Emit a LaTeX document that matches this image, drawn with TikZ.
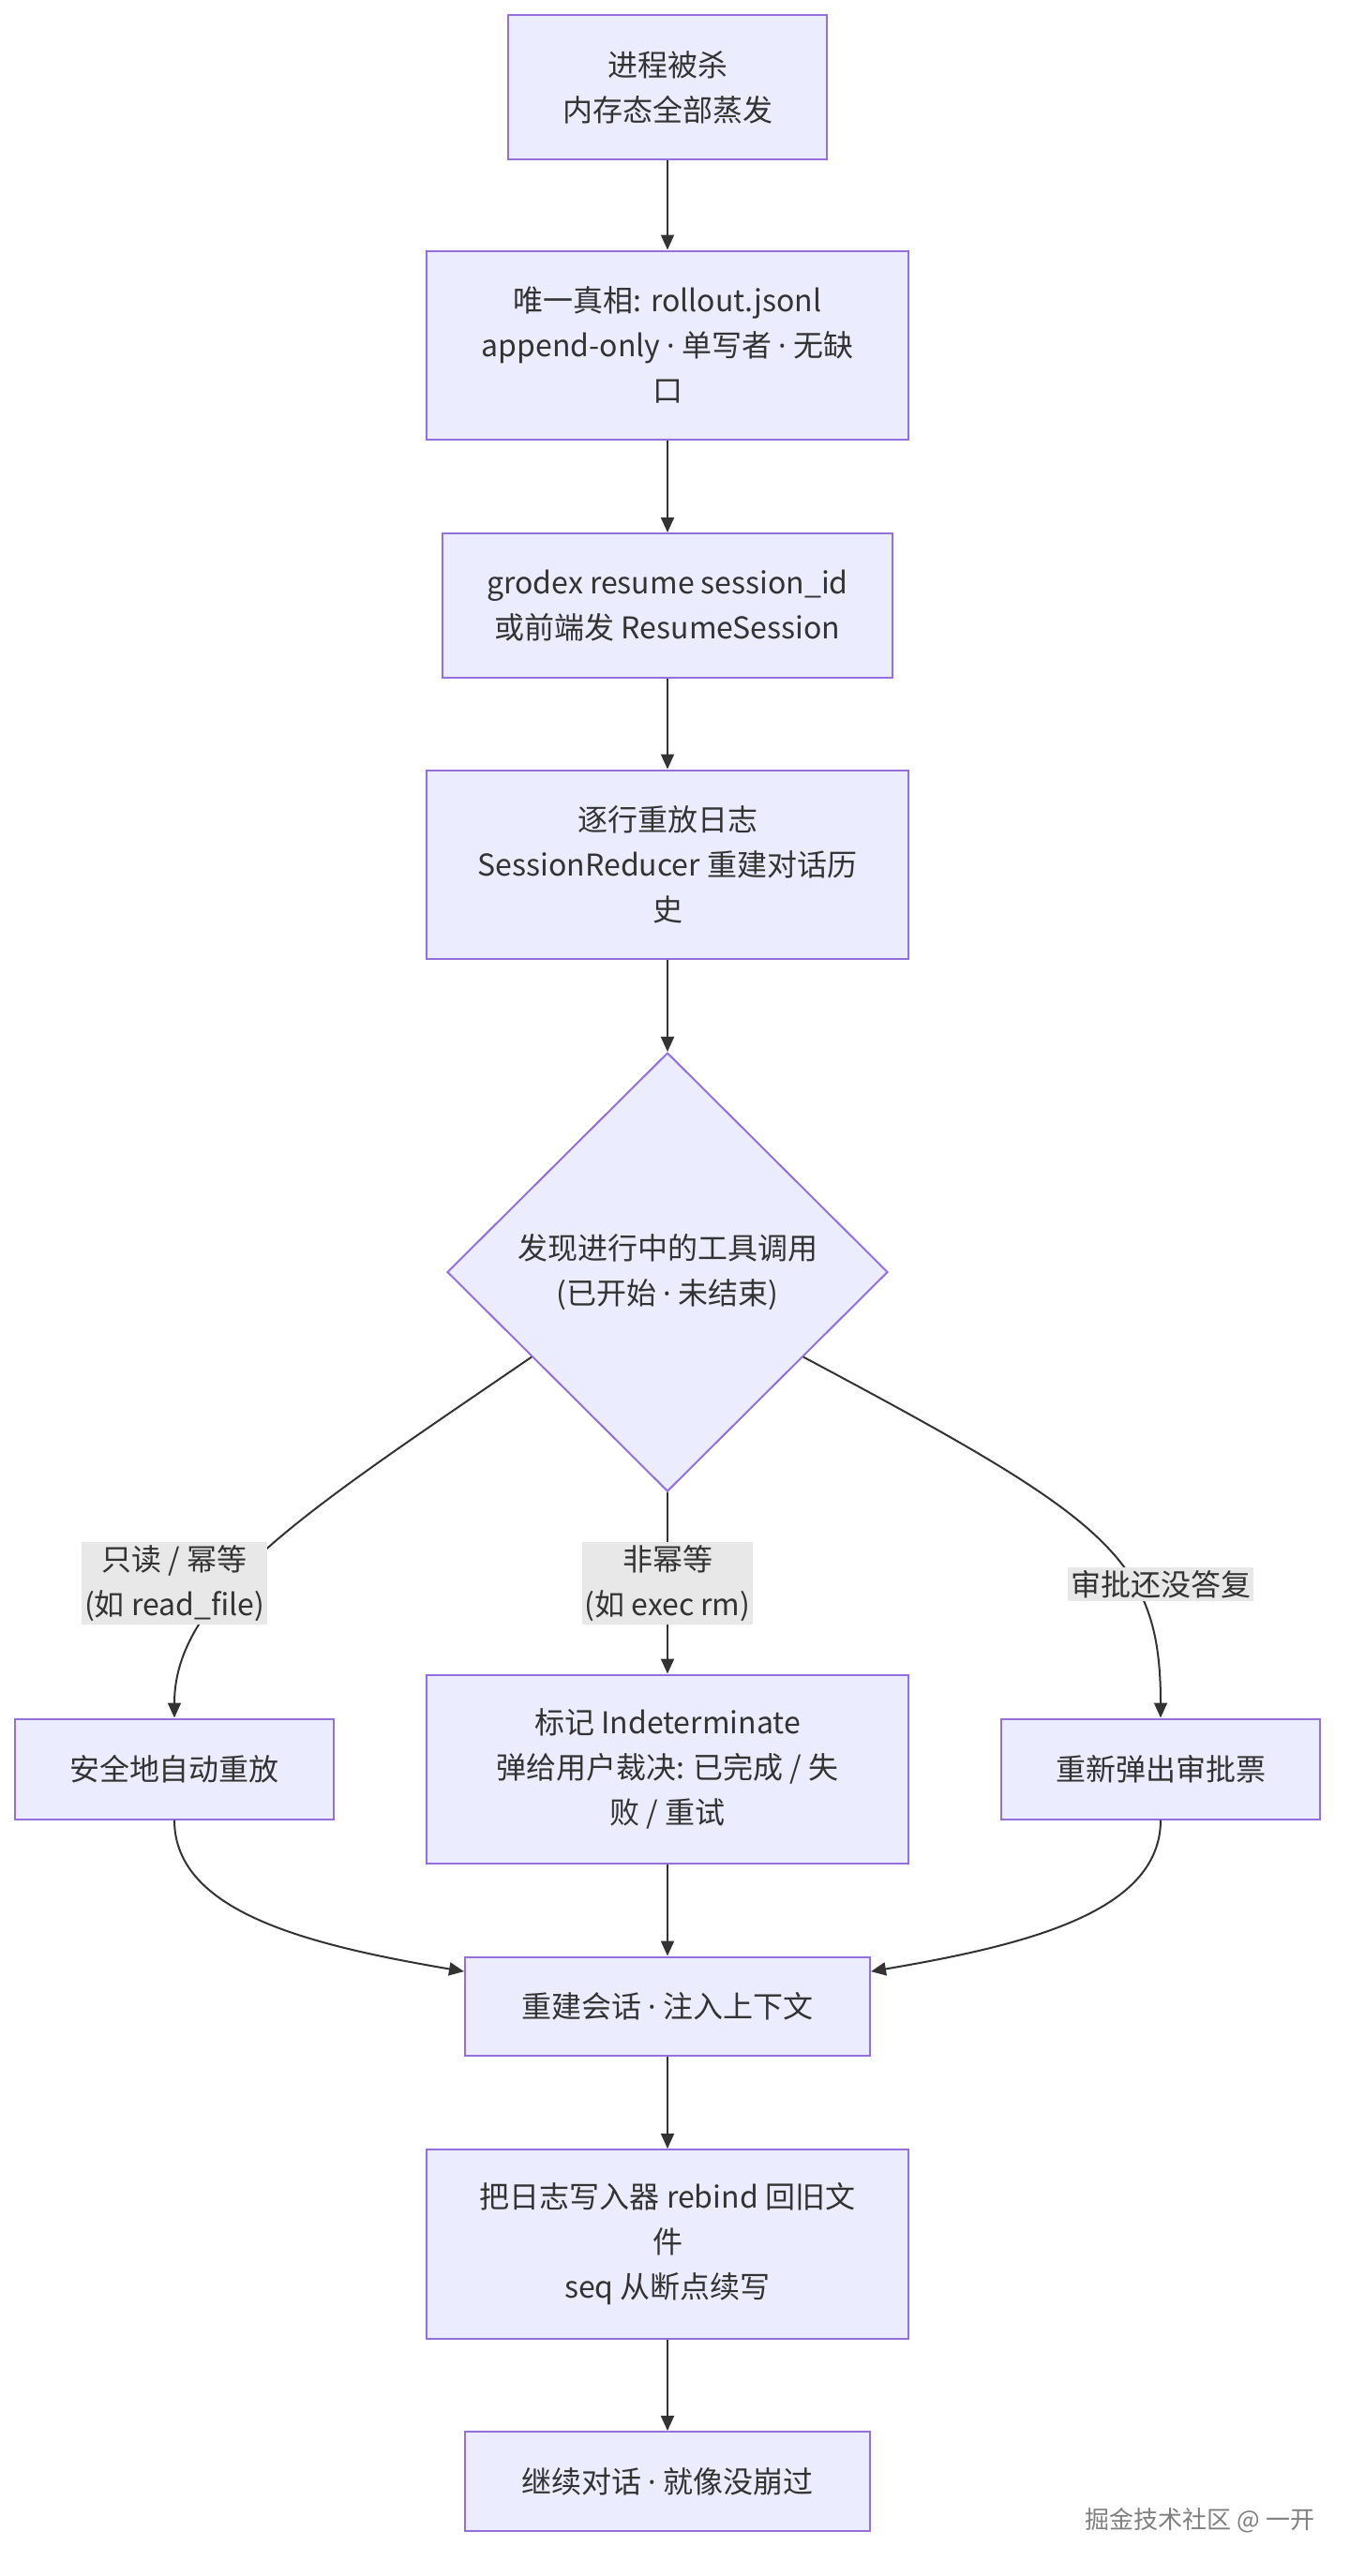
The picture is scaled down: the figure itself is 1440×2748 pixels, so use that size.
\documentclass[tikz,border=0pt]{standalone}
\usepackage{fontspec}
\setmainfont{Noto Sans CJK SC}
\newfontfamily\dotfont{Noto Sans}
\newcommand{\sepdot}{{\dotfont ·}}
\usetikzlibrary{shapes.geometric}
\usetikzlibrary{arrows.meta}
\definecolor{boxfill}{HTML}{ECECFF}
\definecolor{boxline}{HTML}{9370DB}
\definecolor{ink}{HTML}{333333}
\definecolor{lblfill}{HTML}{E8E8E8}
\tikzset{
	box/.style={draw=boxline, fill=boxfill, line width=1pt, text=ink, align=center, inner sep=0pt, font=\fontsize{16}{24}\selectfont},
	decision/.style={diamond, aspect=1, draw=boxline, fill=boxfill, line width=1pt, text=ink, align=center, inner sep=0pt, font=\fontsize{16}{24}\selectfont},
	lbl/.style={fill=lblfill, text=ink, align=center, inner sep=1.5pt, font=\fontsize{16}{24}\selectfont},
	flow/.style={draw=ink, line width=1pt, -{Triangle[length=8pt, width=7pt]}},
}

\begin{document}
\begin{tikzpicture}[x=0.5pt, y=-0.5pt]
		\useasboundingbox (0,0) rectangle (1440,2748);
		\fill[white] (0,0) rectangle (1440,2748);
		\node[box, minimum width=170pt, minimum height=77pt] (kill) at (712,93) {进程被杀\\内存态全部蒸发};
		\node[box, minimum width=257pt, minimum height=100.5pt] (truth) at (712,368) {唯一真相: rollout.jsonl\\append-only \sepdot{} 单写者 \sepdot{} 无缺\\口};
		\node[box, minimum width=240pt, minimum height=77pt] (resume) at (712,646) {grodex resume session\_id\\或前端发 ResumeSession};
		\node[box, minimum width=257pt, minimum height=100.5pt] (replay) at (712,922) {逐行重放日志\\SessionReducer 重建对话历\\史};
		\node[decision, minimum width=235pt, minimum height=234pt] (found) at (712,1357) {发现进行中的工具调用\\(已开始 \sepdot{} 未结束)};
		\node[box, minimum width=170pt, minimum height=53.5pt] (safe) at (186,1887) {安全地自动重放};
		\node[box, minimum width=257pt, minimum height=100.5pt] (mark) at (712,1887) {标记 Indeterminate\\弹给用户裁决: 已完成 / 失\\败 / 重试};
		\node[box, minimum width=170pt, minimum height=53.5pt] (reprompt) at (1238,1887) {重新弹出审批票};
		\node[box, minimum width=216pt, minimum height=52.5pt] (rebuild) at (712,2140) {重建会话 \sepdot{} 注入上下文};
		\node[box, minimum width=257pt, minimum height=101pt] (rebind) at (712,2394) {把日志写入器 rebind 回旧文\\件\\seq 从断点续写};
		\node[box, minimum width=216pt, minimum height=53pt] (goon) at (712,2647) {继续对话 \sepdot{} 就像没崩过};
		\draw[flow] (kill) -- (truth);
		\draw[flow] (truth) -- (resume);
		\draw[flow] (resume) -- (replay);
		\draw[flow] (replay) -- (found);
		\draw[flow] (found.212) .. controls (330,1610) and (186,1700) .. (safe);
		\draw[flow] (found) -- (mark);
		\draw[flow] (found.328) .. controls (1180,1620) and (1238,1660) .. (reprompt);
		\draw[flow] (safe) .. controls (186,2040) and (330,2075) .. (rebuild);
		\draw[flow] (mark) -- (rebuild);
		\draw[flow] (reprompt) .. controls (1238,2040) and (1094,2075) .. (rebuild);
		\draw[flow] (rebuild) -- (rebind);
		\draw[flow] (rebind) -- (goon);
		\node[lbl] (readonly) at (186,1689) {只读 / 幂等\\(如 read\_file)};
		\node[lbl] (nonidem) at (712,1689) {非幂等\\(如 exec rm)};
		\node[lbl] (pending) at (1238,1690) {审批还没答复};
		\node[text=gray, font=\fontsize{13}{13}\selectfont] (juejin) at (1280,2689) {掘金技术社区 @ 一开};
	\end{tikzpicture}
\end{document}
